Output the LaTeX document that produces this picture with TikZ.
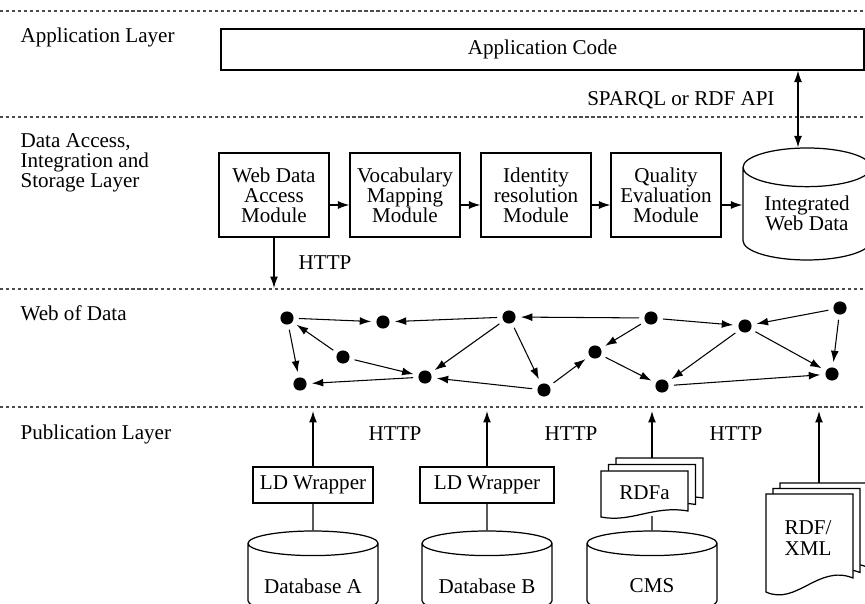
\documentclass[tikz,border=0pt]{standalone}
\usepackage{fontspec}
\setmainfont{Liberation Serif}
\usetikzlibrary{arrows.meta,shapes.geometric,positioning}

% one page of a stacked document: top left x, top left y, width, height, wave
\newcommand\docsheet[5]{%
  \draw[fill=white] (#1,#2) -- ({#1+#3},#2) -- ({#1+#3},{#2+#4-#5})
    .. controls ({#1+0.6*#3},{#2+#4-2*#5}) and ({#1+0.35*#3},{#2+#4+#5}) .. (#1,{#2+#4}) -- cycle;}

\begin{document}
\begin{tikzpicture}[x=0.02cm, y=-0.02cm, font=\fontsize{12}{11.5}\selectfont,
    line width=0.7pt, >={Latex[length=6.5pt,width=4.5pt]},
    layersep/.style={draw=black!70, line width=0.6pt, dash pattern=on 1.8pt off 1.6pt},
    layername/.style={anchor=west, align=left, inner sep=0pt},
    module/.style={draw, minimum width=2.2cm, minimum height=1.68cm, align=center, inner sep=1pt},
    wrapper/.style={draw, minimum height=0.72cm},
    store/.style={draw, cylinder, shape border rotate=90, fill=white}]
  \useasboundingbox (0,0) rectangle (865,604);

  % layers
  \foreach \y in {11,117,289,407}
    \draw[layersep] (0,\y) -- (865,\y);
  \node[layername] (lapp) at (20,37) {Application Layer};
  \node[layername] (ldata) at (20,163) {Data Access,\\Integration and\\Storage Layer};
  \node[layername] (lweb) at (20,313) {Web of Data};
  \node[layername] (lpub) at (20,434) {Publication Layer};

  % application layer
  \node[draw, minimum width=12.86cm, minimum height=0.82cm] (app) at (542.5,49.5) {Application Code};

  % data access, integration and storage
  \node[module] (wda) at (274,195) {Web Data\\Access\\Module};
  \node[module] (vmm) at (405,195) {Vocabulary\\Mapping\\Module};
  \node[module] (irm) at (536,195) {Identity\\resolution\\Module};
  \node[module] (qem) at (666,195) {Quality\\Evaluation\\Module};
  \node[store, minimum width=2.56cm, minimum height=2.24cm, aspect=3.3,
    label={[yshift=2.8pt, align=center]center:{Integrated\\Web Data}}] (iwd) at (807,218) {};

  \coordinate (row) at (0,205);
  \coordinate (api) at (798,0);
  \foreach \a/\b in {wda/vmm, vmm/irm, irm/qem, qem/iwd}
    \draw[->] (\a.east |- row) -- (\b.west |- row);
  \draw[<->] (app.south -| api) -- (iwd.north -| api);
  \node[anchor=east] (sparql) at (781,100) {SPARQL or RDF API};
  \draw[->] (wda.south) -- (wda.south |- 0,288);
  \node (httpwda) at (325,263) {HTTP};

  % web of data
  \begin{scope}[every node/.style={circle, fill, inner sep=0pt, minimum size=7.5pt, outer sep=3pt}]
    \node (n1) at (287,318) {};
    \node (n2) at (383,322) {};
    \node (n3) at (509,317) {};
    \node (n4) at (651,318) {};
    \node (n5) at (745,326) {};
    \node (n6) at (840,308) {};
    \node (n7) at (343,357) {};
    \node (n8) at (595,352) {};
    \node (n9) at (425,377) {};
    \node (n10) at (544,390) {};
    \node (n11) at (300,384) {};
    \node (n12) at (662,386) {};
    \node (n13) at (832,374) {};
  \end{scope}

  \begin{scope}[every edge/.style={draw=black, line width=0.6pt}]
    \path [->] (n1) edge (n2);
    \path [->] (n3) edge (n2);
    \path [->] (n4) edge (n3);
    \path [->] (n4) edge (n5);
    \path [->] (n6) edge (n5);
    \path [->] (n1) edge (n11);
    \path [->] (n7) edge (n1);
    \path [->] (n7) edge (n9);
    \path [->] (n3) edge (n9);
    \path [->] (n3) edge (n10);
    \path [->] (n10) edge (n9);
    \path [->] (n9) edge (n11);
    \path [->] (n10) edge (n8);
    \path [->] (n4) edge (n8);
    \path [->] (n8) edge (n12);
    \path [->] (n5) edge (n12);
    \path [->] (n5) edge (n13);
    \path [->] (n6) edge (n13);
    \path [->] (n12) edge (n13);
  \end{scope}

  % publication layer
  \node[wrapper, minimum width=2.4cm] (ldwa) at (313,485) {LD Wrapper};
  \node[wrapper, minimum width=2.68cm] (ldwb) at (487,485) {LD Wrapper};
  \node[store, minimum width=2.6cm, minimum height=1.64cm, aspect=2.1,
    label={[yshift=-2.8pt]center:Database A}] (dba) at (313,581) {};
  \node[store, minimum width=2.6cm, minimum height=1.64cm, aspect=2.1,
    label={[yshift=-2.8pt]center:Database B}] (dbb) at (487,581) {};
  \node[store, minimum width=2.6cm, minimum height=1.64cm, aspect=2.1,
    label={[yshift=-2.8pt]center:CMS}] (cms) at (652,581) {};

  \docsheet{616}{458}{87}{46}{6}
  \docsheet{608.5}{464.5}{87}{46}{6}
  \docsheet{601}{471}{87}{46}{6}
  \node (rdfa) at (644.5,493) {RDFa};
  \coordinate (rdfatop) at (652,458);
  \coordinate (rdfabot) at (652,516);

  \docsheet{780}{483}{87}{98}{14}
  \docsheet{773}{488.5}{87}{98}{14}
  \docsheet{766}{494}{87}{98}{14}
  \node[align=center] (rdfxml) at (808,538) {RDF/\\XML};
  \coordinate (xmltop) at (819,483);

  \draw (ldwa.south) -- (dba.north);
  \draw (ldwb.south) -- (dbb.north);
  \draw (rdfabot) -- (cms.north);
  \draw[->] (ldwa.north) -- (ldwa.north |- 0,411);
  \draw[->] (ldwb.north) -- (ldwb.north |- 0,411);
  \draw[->] (rdfatop) -- (rdfatop |- 0,411);
  \draw[->] (xmltop) -- (xmltop |- 0,411);
  \node (httpa) at (395,434) {HTTP};
  \node (httpb) at (571,434) {HTTP};
  \node (httpc) at (736,434) {HTTP};
\end{tikzpicture}
\end{document}
